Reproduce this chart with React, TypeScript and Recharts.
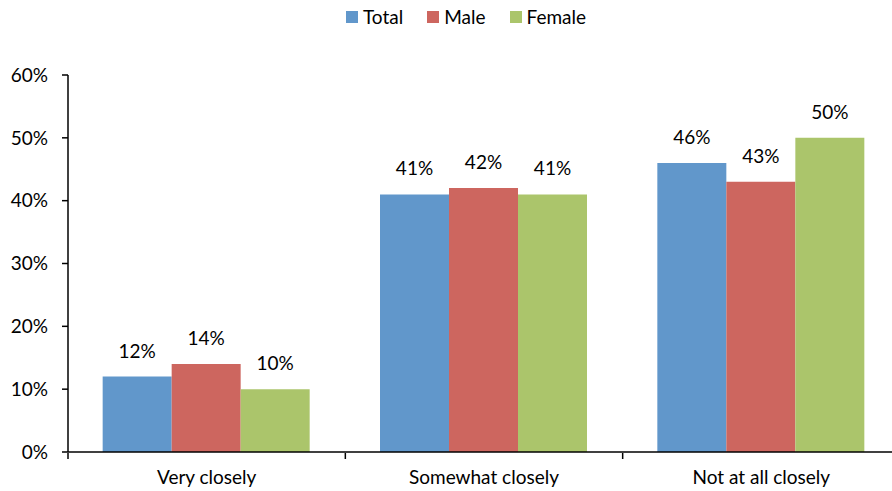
import { Bar, BarChart, LabelList, Legend, XAxis, YAxis } from "recharts";

const categories = ["Very closely", "Somewhat closely", "Not at all closely"];
const seriesNames = ["Total", "Male", "Female"];
const seriesColors = ["#6197CB", "#CD665F", "#ABC56B"];
const totalValues = [12, 41, 46];
const maleValues = [14, 42, 43];
const femaleValues = [10, 41, 50];
const yTicks = [0, 10, 20, 30, 40, 50, 60];

const data = categories.map((name, i) => ({
  name,
  Total: totalValues[i],
  Male: maleValues[i],
  Female: femaleValues[i],
}));

const font = "Lato, 'Open Sans', sans-serif";
const fontSize = 19;
const pct = (v: number) => `${v}%`;

// legend in the series order, not sorted
const LegendBox = () => (
  <div style={{ display: "flex", justifyContent: "center", alignItems: "center", gap: 24, fontFamily: font, fontSize }}>
    {seriesNames.map((s, i) => (
      <span key={s} style={{ display: "flex", alignItems: "center", color: "#000" }}>
        <span style={{ width: 12, height: 12, background: seriesColors[i], marginRight: 5, display: "inline-block" }} />
        {s}
      </span>
    ))}
  </div>
);

// category label plus tick marks on the band boundaries
const CategoryTick = (props: any) => {
  const { x, y, payload, index, visibleTicksCount } = props;
  const half = payload.offset ?? 0;
  const isLast = index === visibleTicksCount - 1;
  return (
    <g>
      <line x1={x - half} x2={x - half} y1={y - 17} y2={y - 11} stroke="#000" strokeWidth={1.5} />
      {isLast && <line x1={x + half} x2={x + half} y1={y - 17} y2={y - 11} stroke="#000" strokeWidth={1.5} />}
      <text x={x} y={y} dy={14} textAnchor="middle" fill="#000" fontSize={fontSize} fontFamily={font}>
        {payload.value}
      </text>
    </g>
  );
};

const App = () => (
  <div style={{ position: "absolute", left: 0, top: 0, width: 892, height: 491, overflow: "hidden", fontFamily: font }}>
    <BarChart
      width={900}
      height={491}
      data={data}
      margin={{ top: 50, right: 0, bottom: 0, left: 0 }}
      barCategoryGap="12.5%"
      barGap={0}
    >
      <Legend
        verticalAlign="top"
        height={25}
        content={<LegendBox />}
        wrapperStyle={{ top: 5, left: 16, width: 900 }}
      />
      <XAxis
        dataKey="name"
        tickLine={false}
        axisLine={{ stroke: "#000", strokeWidth: 1.5 }}
        tick={<CategoryTick />}
        tickMargin={12}
        height={39}
      />
      <YAxis
        domain={[0, 60]}
        ticks={yTicks}
        tickFormatter={pct}
        width={68}
        axisLine={{ stroke: "#000", strokeWidth: 1.5 }}
        tickLine={{ stroke: "#000", strokeWidth: 1.5 }}
        tickSize={6}
        tickMargin={14}
        tick={{ fill: "#000", fontSize, fontFamily: font }}
        interval={0}
      />
      <Bar dataKey="Total" fill={seriesColors[0]} isAnimationActive={false}>
        <LabelList dataKey="Total" position="top" offset={19} formatter={pct} fill="#000" fontSize={fontSize} fontFamily={font} />
      </Bar>
      <Bar dataKey="Male" fill={seriesColors[1]} isAnimationActive={false}>
        <LabelList dataKey="Male" position="top" offset={19} formatter={pct} fill="#000" fontSize={fontSize} fontFamily={font} />
      </Bar>
      <Bar dataKey="Female" fill={seriesColors[2]} isAnimationActive={false}>
        <LabelList dataKey="Female" position="top" offset={19} formatter={pct} fill="#000" fontSize={fontSize} fontFamily={font} />
      </Bar>
    </BarChart>
  </div>
);

export default App;
